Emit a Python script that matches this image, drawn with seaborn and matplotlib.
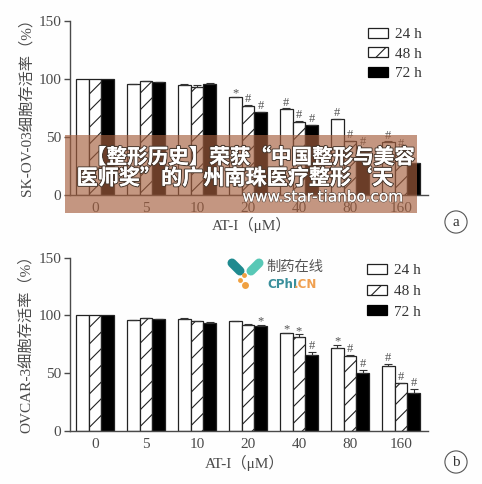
import matplotlib
matplotlib.use("Agg")
import matplotlib.pyplot as plt
import matplotlib.patheffects as pe
from matplotlib.lines import Line2D
from matplotlib.patches import Patch, Rectangle
import pandas as pd
import seaborn as sns

W, H = 482, 484

doses = ["0", "5", "10", "20", "40", "80", "160"]
times = ["24 h", "48 h", "72 h"]

# panel a
a_24 = [100, 95.5, 95, 84, 74, 65, 45.5]
a_48 = [100, 98, 93, 77, 63, 46, 38]
a_72 = [100, 97, 96, 71, 60, 40, 27]
a_err_24 = [0, 0.4, 0.5, 0.8, 0.5, 0.5, 0.6]
a_err_48 = [0, 0.4, 1.5, 0.6, 0.5, 0.6, 0.6]
a_err_72 = [0, 0.3, 0.4, 0.5, 0.4, 0.5, 0.5]
a_mark_24 = ["", "", "", "*", "#", "#", "#"]
a_mark_48 = ["", "", "", "#", "#", "#", "#"]
a_mark_72 = ["", "", "", "#", "#", "#", ""]

# panel b
b_24 = [100, 96, 97, 95, 84.5, 72, 56]
b_48 = [100, 97.5, 95, 92, 81, 65, 41]
b_72 = [100, 96.5, 93.5, 91, 66, 50, 33]
b_err_24 = [0, 0.4, 0.5, 0.5, 0.5, 2.5, 2.2]
b_err_48 = [0, 0.4, 0.5, 0.5, 2.5, 0.6, 0.6]
b_err_72 = [0, 0.3, 0.4, 0.5, 2.2, 3.0, 3.0]
b_mark_24 = ["", "", "", "", "*", "*", "#"]
b_mark_48 = ["", "", "", "", "*", "#", "#"]
b_mark_72 = ["", "", "", "*", "#", "#", "#"]

SERIF = ["Liberation Serif", "Noto Sans CJK SC"]
INK = "#4a4a4a"
sns.set_style("white")
plt.rcParams["hatch.linewidth"] = 0.8
plt.rcParams["hatch.color"] = "#333333"

fig = plt.figure(figsize=(W / 100, H / 100), dpi=100, facecolor="#fefefe")


def px_axes(left, top, right, bottom):
    return fig.add_axes([left / W, 1 - bottom / H, (right - left) / W, (bottom - top) / H])


def ftext(x, y, s, **kw):
    kw.setdefault("ha", "center")
    kw.setdefault("va", "center")
    return fig.text(x / W, 1 - y / H, s, **kw)


def draw_panel(ax, values, errors, marks, legend_anchor, legend_gap):
    df = pd.DataFrame({
        "dose": doses * 3,
        "time": [t for t in times for _ in doses],
        "value": values[0] + values[1] + values[2],
    })
    sns.barplot(data=df, x="dose", y="value", hue="time", order=doses, hue_order=times,
                palette=["white", "white", "black"], saturation=1, width=0.75, gap=0,
                edgecolor="#222222", linewidth=0.9, errorbar=None, legend=False, ax=ax)
    # list() because errorbar adds to ax.containers
    for i, cont in enumerate(list(ax.containers)):
        for j, bar in enumerate(cont):
            cx = bar.get_x() + bar.get_width() / 2
            if i == 1:
                bar.set_hatch("//")
            if errors[i][j] > 0:
                ax.errorbar(cx, values[i][j], yerr=[[0], [errors[i][j]]], color="#333333",
                            lw=0.8, capsize=2.6, capthick=0.8, zorder=3)
            if marks[i][j]:
                off = 5.0 if marks[i][j] == "#" else 3.0
                ax.text(cx, values[i][j] + errors[i][j] + off, marks[i][j], ha="center", va="center",
                        fontsize=9, color="#555555", family=SERIF)
    ax.set_xlim(-0.5, 6.53)
    ax.set_ylim(0, 150)
    ax.set_yticks([0, 50, 100, 150])
    ax.set_xlabel("")
    ax.set_ylabel("")
    ax.patch.set_alpha(0)
    ax.tick_params(axis="y", length=4, width=1, color=INK, labelsize=11, labelcolor=INK, pad=2, left=True)
    ax.tick_params(axis="x", length=0, labelsize=11, labelcolor=INK, pad=5)
    for lab in ax.get_xticklabels() + ax.get_yticklabels():
        lab.set_family(SERIF)
    sns.despine(ax=ax)
    for s in ["left", "bottom"]:
        ax.spines[s].set_color(INK)
        ax.spines[s].set_linewidth(1.0)
    handles = [
        Patch(facecolor="white", edgecolor="#222222", linewidth=0.9),
        Patch(facecolor="white", edgecolor="#222222", linewidth=0.9, hatch="//"),
        Patch(facecolor="black", edgecolor="black", linewidth=0.9),
    ]
    ax.legend(handles, times, loc="upper left", bbox_to_anchor=(legend_anchor[0] / W, 1 - legend_anchor[1] / H),
              bbox_transform=fig.transFigure, frameon=False, handlelength=1.3, handleheight=0.62,
              handletextpad=0.45, labelspacing=legend_gap, borderpad=0, borderaxespad=0,
              prop={"family": SERIF, "size": 11}, labelcolor="#333333")


ax_a = px_axes(69.5, 21, 428, 194.7)
draw_panel(ax_a, [a_24, a_48, a_72], [a_err_24, a_err_48, a_err_72],
           [a_mark_24, a_mark_48, a_mark_72], (368, 28), 0.4)
ax_b = px_axes(69.5, 257.7, 428, 430.7)
draw_panel(ax_b, [b_24, b_48, b_72], [b_err_24, b_err_48, b_err_72],
           [b_mark_24, b_mark_48, b_mark_72], (367, 264), 0.48)

# axis titles
ftext(26, 103, "SK-OV-03细胞存活率（%）", rotation=90, fontsize=11, color=INK, family=SERIF)
ftext(26, 340, "OVCAR-3细胞存活率（%）", rotation=90, fontsize=11, color=INK, family=SERIF)
ftext(252, 225, "AT-I（μM）", fontsize=11, color=INK, family=SERIF)
ftext(245, 463, "AT-I（μM）", fontsize=11, color=INK, family=SERIF)

# panel letters
for y, s in [(222, "a"), (462, "b")]:
    ftext(456, y, s, fontsize=11, color="#333333", family=SERIF,
          bbox=dict(boxstyle="circle,pad=0.3", facecolor="none", edgecolor="#555555", linewidth=0.8))

# banner overlay
fig.add_artist(Rectangle((65 / W, 1 - 213 / H), 352 / W, 78 / H, transform=fig.transFigure,
                         facecolor="#a55f3e", edgecolor="none", alpha=0.65, zorder=5))
shadow = [pe.withStroke(linewidth=1.6, foreground="#4a3a30"), pe.Normal()]
banner_font = ["Noto Sans CJK SC", "DejaVu Sans"]
for x, y, size, s in [(250, 157, 14.8, "【整形历史】荣获“中国整形与美容"), (235, 178, 15.2, "医师奖”的广州南珠医疗整形‘天")]:
    t = ftext(x, y, s, fontsize=size, color="white", weight="bold", family=banner_font, zorder=6)
    t.set_path_effects(shadow)
t = ftext(323, 197, "www.star-tianbo.com", fontsize=11, color="white", family="DejaVu Sans", zorder=6)
t.set_path_effects([pe.withStroke(linewidth=1.0, foreground="#5a4a40"), pe.Normal()])

# cphi logo
for xs, ys, c in [((232, 240), (263, 271), "#1f8a8f"), ((259, 251), (263, 271), "#58c8b6")]:
    fig.add_artist(Line2D([v / W for v in xs], [1 - v / H for v in ys], color=c, lw=6.5,
                          solid_capstyle="round", transform=fig.transFigure, zorder=6))
for x, y, r in [(244, 275, 3.5), (240, 280, 3.5), (245, 285, 5)]:
    fig.add_artist(Line2D([x / W], [1 - y / H], marker="o", ms=r, color="#f0a040", mec="none",
                          transform=fig.transFigure, zorder=6))
ftext(295, 267, "制药在线", fontsize=10.3, color="#555555", family=banner_font, zorder=6)
ftext(267, 285, "CPhI", fontsize=8.6, color="#3a8f9b", weight="bold", family="DejaVu Sans", ha="left", zorder=6)
ftext(317, 285, ".CN", fontsize=8.6, color="#f0a050", weight="bold", family="DejaVu Sans", ha="right", zorder=6)

fig.savefig("out.png", dpi=100, facecolor=fig.get_facecolor())
